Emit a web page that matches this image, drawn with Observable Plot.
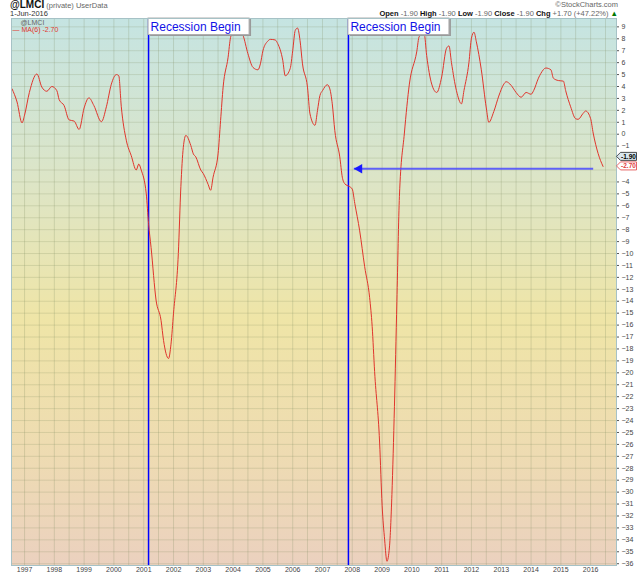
<!DOCTYPE html>
<html>
<head>
<meta charset="utf-8">
<script src="https://cdn.jsdelivr.net/npm/d3@7"></script>
<script src="https://cdn.jsdelivr.net/npm/@observablehq/plot@0.6"></script>
<style>
  body { margin: 0; background: #fff; font-family: "Liberation Sans", Arial, sans-serif; }
  #wrap { position: relative; width: 640px; height: 576px; overflow: hidden; }
  #head { position: relative; height: 17px; color: #333; }
  #head .t { position: absolute; white-space: nowrap; font-size: 7.5px; line-height: 8px; }
  #head b { color: #111; }
  #head .g { color: #666; }
</style>
</head>
<body>
<div id="wrap">
  <div id="head">
    <div class="t" style="left:10px;top:1px"><b style="font-size:10px">@LMCI</b> <span class="g">(private)</span> <span class="g">UserData</span></div>
    <div class="t" style="left:10px;top:10px">1-Jun-2016</div>
    <div class="t g" style="right:22px;top:1px">©StockCharts.com</div>
    <div class="t" style="right:22px;top:10px"><b>Open</b> <span class="g">-1.90</span> <b>High</b> <span class="g">-1.90</span> <b>Low</b> <span class="g">-1.90</span> <b>Close</b> <span class="g">-1.90</span> <b>Chg</b> <span class="g">+1.70 (+47.22%)</span> <span style="color:#070">▲</span></div>
  </div>
  <div id="chart"></div>
</div>
<script>
// LMCI, 6-month moving average
const dates = [
  "1996-08", "1996-10", "1996-12", "1997-01", "1997-03", "1997-06", "1997-08", "1997-10", "1997-12",
  "1998-02", "1998-03", "1998-05", "1998-07", "1998-09", "1998-11", "1999-01", "1999-03", "1999-05",
  "1999-08", "1999-10", "1999-12", "2000-02", "2000-03", "2000-04", "2000-06", "2000-08", "2000-10",
  "2000-11", "2000-12", "2001-02", "2001-03", "2001-04", "2001-06", "2001-08", "2001-09", "2001-11",
  "2001-12", "2002-01", "2002-03", "2002-04", "2002-05", "2002-06", "2002-08", "2002-09", "2002-10",
  "2002-12", "2003-01", "2003-03", "2003-04", "2003-05", "2003-07", "2003-08", "2003-09", "2003-11",
  "2003-12", "2004-02", "2004-05", "2004-07", "2004-09", "2004-11", "2004-12", "2005-01", "2005-03",
  "2005-04", "2005-06", "2005-07", "2005-09", "2005-10", "2005-12", "2006-01", "2006-02", "2006-03",
  "2006-04", "2006-05", "2006-07", "2006-08", "2006-10", "2006-11", "2006-12", "2007-01", "2007-03",
  "2007-04", "2007-05", "2007-06", "2007-08", "2007-09", "2007-10", "2007-12", "2008-01", "2008-02",
  "2008-04", "2008-06", "2008-08", "2008-09", "2008-10", "2008-12", "2009-01", "2009-02", "2009-03",
  "2009-04", "2009-05", "2009-06", "2009-07", "2009-08", "2009-10", "2009-12", "2010-03", "2010-04",
  "2010-06", "2010-07", "2010-09", "2010-11", "2011-01", "2011-03", "2011-04", "2011-05", "2011-07",
  "2011-09", "2011-10", "2011-12", "2012-01", "2012-02", "2012-03", "2012-05", "2012-07", "2012-08",
  "2012-10", "2012-12", "2013-02", "2013-03", "2013-05", "2013-07", "2013-09", "2013-11", "2014-01",
  "2014-02", "2014-04", "2014-05", "2014-07", "2014-09", "2014-10", "2014-12", "2015-02", "2015-03",
  "2015-05", "2015-07", "2015-08", "2015-10", "2015-11", "2016-01", "2016-02", "2016-04", "2016-06"
];
const lmciMA = [
  3.8, 2.7, 0.95, 1.6, 3.5, 5.05, 3.95, 3.6, 4.0,
  3.65, 2.9, 2.4, 1.2, 1.1, 0.4, 2.2, 3.05, 2.4,
  1.05, 2.3, 4.2, 5.0, 4.9, 2.3, -0.5, -1.8, -3.0,
  -2.5, -3.0, -5.0, -7.5, -9.5, -13.9, -15.6, -17.3, -18.8,
  -17.6, -15.0, -10.0, -4.4, -1.1, -0.1, -0.95, -1.65, -1.9,
  -3.0, -3.3, -4.2, -4.7, -3.6, -1.65, 1.15, 3.95, 6.45,
  8.1, 9.0, 8.3, 6.75, 5.6, 5.4, 5.9, 7.0, 7.8,
  7.95, 7.9, 7.6, 6.2, 4.9, 5.5, 7.0, 8.7, 8.9,
  7.85, 5.9, 3.95, 1.7, 0.75, 2.0, 3.25, 3.65, 4.15,
  3.8, 2.55, 0.3, -1.9, -3.6, -4.15, -4.4, -4.6, -5.8,
  -8.1, -11.1, -13.7, -16.1, -19.9, -25.8, -31.1, -34.0, -35.8,
  -34.6, -30.2, -22.8, -14.0, -5.2, 0.1, 4.2, 6.9, 8.2,
  8.4, 6.6, 4.2, 3.5, 4.8, 7.2, 7.4, 6.0, 3.65,
  2.55, 3.65, 6.0, 8.05, 8.55, 7.75, 5.4, 2.2, 1.0,
  1.9, 3.2, 4.2, 4.4, 4.1, 3.5, 3.1, 3.5, 3.35,
  3.65, 4.7, 5.1, 5.55, 5.4, 4.7, 4.5, 4.45, 3.65,
  2.3, 1.3, 1.25, 1.75, 1.95, 1.3, 0.1, -1.6, -2.7
];

const recessionDates = ["2001-03-01", "2007-11-15"];
const recessionLabel = "Recession Begin";
const arrowFrom = "2016-02-01";
const arrowTo = "2008-01-20";
const arrowLevel = -2.9;
const lastClose = -1.9;
const lastMA = -2.7;
const years = d3.range(1997, 2017);
const yTicks = d3.range(-36, 10);
// labels -2 and -3 sit under the last-value tags
const hiddenLabels = [-2, -3];

const series = dates.map((d, i) => ({date: d3.utcParse("%Y-%m")(d), value: lmciMA[i]}));
const recessions = recessionDates.map((d) => new Date(d));
const arrow = [{x1: new Date(arrowFrom), x2: new Date(arrowTo), y: arrowLevel}];

// filled triangle pointing left, tip at the point
const triLeft = {
  draw(c, size) {
    const s = Math.sqrt(size / Math.PI);
    c.moveTo(0, 0);
    c.lineTo(2.4 * s, -1.35 * s);
    c.lineTo(2.4 * s, 1.35 * s);
    c.closePath();
  }
};

function gradientDefs() {
  const defs = d3.create("svg:defs");
  const g = defs.append("linearGradient").attr("id", "bgfade")
    .attr("x1", 0).attr("y1", 0).attr("x2", 0).attr("y2", 1);
  [[0, "#c5e4e2"], [0.3, "#dde5c6"], [0.55, "#efe5a7"], [0.8, "#eedbb2"], [1, "#ebd1bf"]]
    .forEach(([o, c]) => g.append("stop").attr("offset", o).attr("stop-color", c));
  return defs.node();
}

function recessionBoxes(index, {x}, values, dims) {
  const g = d3.create("svg:g").attr("text-anchor", "start");
  for (const d of recessions) {
    const px = x(d);
    const top = dims.marginTop;
    g.append("rect").attr("x", px + 2).attr("y", top + 1).attr("width", 101).attr("height", 17).attr("fill", "#9a9a9a");
    g.append("rect").attr("x", px).attr("y", top).attr("width", 101).attr("height", 16.5)
      .attr("fill", "#fff").attr("stroke", "#b0b0b0");
    g.append("text").attr("x", px + 2.5).attr("y", top + 12.5)
      .attr("font-size", 12).attr("fill", "#1212e6")
      .text(recessionLabel);
  }
  return g.node();
}

function priceTags(index, {y}, values, dims) {
  const g = d3.create("svg:g").attr("font-size", 6.5).attr("font-weight", "bold").attr("text-anchor", "middle");
  const x0 = dims.width - dims.marginRight;
  [[lastClose, "#d9e6ee", "#222", "#000"], [lastMA, "#fff", "#e04040", "#e04040"]].forEach(([v, fill, stroke, color]) => {
    const py = y(v);
    g.append("path").attr("d", `M${x0 + 0.5},${py} l4,-4 h16 v8 h-16 z`)
      .attr("fill", fill).attr("stroke", stroke).attr("stroke-width", 0.8);
    g.append("text").attr("x", x0 + 12.5).attr("y", py).attr("dy", "0.35em")
      .attr("fill", color).text(v.toFixed(2));
  });
  return g.node();
}

const chart = Plot.plot({
  width: 640,
  height: 559,
  marginTop: 1,
  marginBottom: 11,
  marginLeft: 11,
  marginRight: 24,
  style: {fontFamily: "'Liberation Sans', Arial, sans-serif", background: "transparent", color: "#333"},
  x: {type: "utc", domain: [new Date("1996-07-25"), new Date("2016-11-13")], label: null},
  y: {domain: [-36.15, 9.7], label: null},
  marks: [
    gradientDefs,
    Plot.frame({fill: "url(#bgfade)", stroke: "none"}),
    Plot.gridX({ticks: d3.utcMonth.every(6), stroke: "#7f8c60", strokeOpacity: 0.24}),
    Plot.gridY({ticks: yTicks, stroke: "#7f8c60", strokeOpacity: 0.22}),
    Plot.axisX({
      ticks: years.map((y) => new Date(Date.UTC(y, 0, 1))),
      tickFormat: "%Y", tickSize: 0, tickPadding: 2, fontSize: 7, fill: "#444"
    }),
    Plot.axisY({
      anchor: "right", ticks: yTicks.filter((v) => !hiddenLabels.includes(v)),
      tickSize: 2, tickPadding: 3, fontSize: 7, fill: "#444", stroke: "#555"
    }),
    Plot.ruleX(recessions, {stroke: "#0000ff", strokeWidth: 1.5}),
    Plot.lineY(series, {x: "date", y: "value", stroke: "#e0352c", strokeWidth: 1, curve: "monotone-x"}),
    Plot.link(arrow, {x1: "x1", x2: "x2", y1: "y", y2: "y", stroke: "#4a4aff", strokeWidth: 2, strokeOpacity: 0.85}),
    Plot.dot(arrow, {x: "x2", y: "y", symbol: triLeft, r: 3.5, fill: "#1a1aff", stroke: "none"}),
    recessionBoxes,
    Plot.text(["@LMCI"], {text: (d) => d, frameAnchor: "top-left", dx: 9, dy: 2, fontSize: 7, fill: "#666", textAnchor: "start"}),
    Plot.text(["— MA(6) -2.70"], {text: (d) => d, frameAnchor: "top-left", dx: 1, dy: 9, fontSize: 7, fill: "#e0352c", textAnchor: "start"}),
    Plot.frame({stroke: "#a6c2c6"}),
    priceTags
  ]
});

document.getElementById("chart").appendChild(chart);
</script>
</body>
</html>
